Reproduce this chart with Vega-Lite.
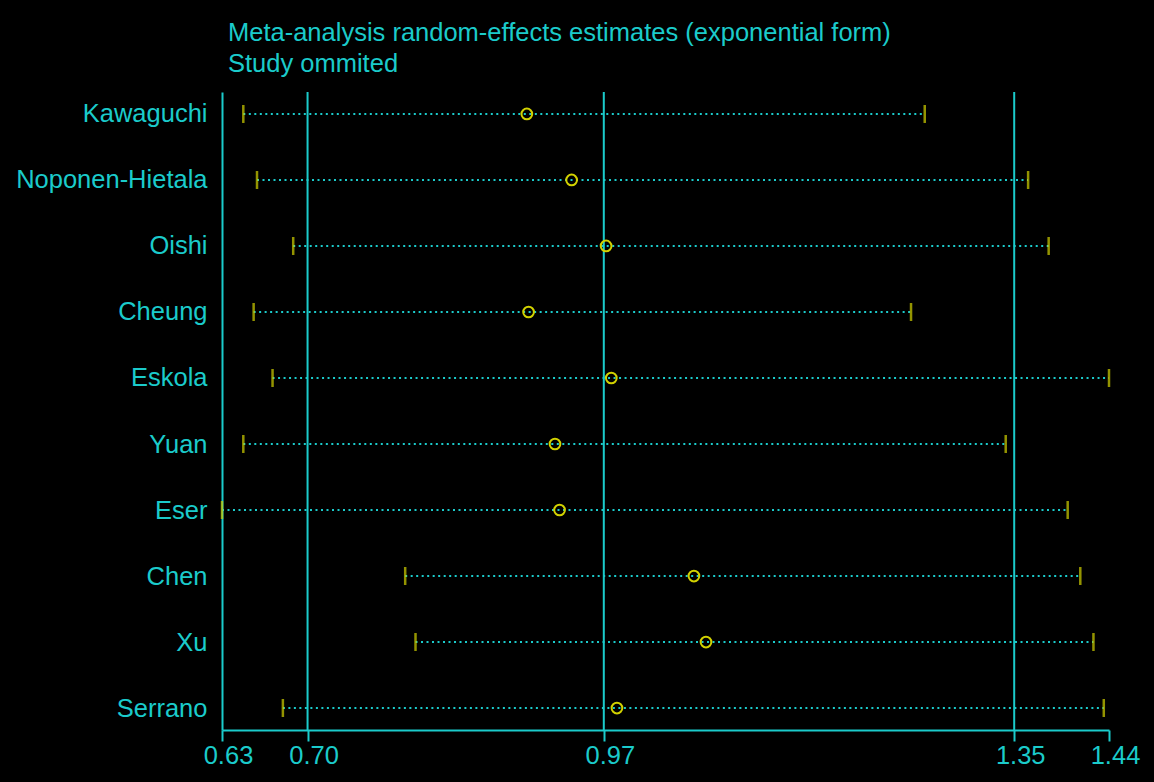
{
  "$schema": "https://vega.github.io/schema/vega-lite/v6.json",
  "autosize": "none",
  "width": 887,
  "height": 638,
  "padding": {"left": 222, "top": 92, "right": 45, "bottom": 52},
  "background": "#000000",
  "title": {
    "text": ["Meta-analysis random-effects estimates (exponential form)", "Study ommited"],
    "anchor": "start",
    "frame": "group",
    "dx": 6,
    "offset": 14,
    "font": "Liberation Sans",
    "fontSize": 25.5,
    "fontWeight": "normal",
    "lineHeight": 31,
    "color": "#1BCBCB"
  },
  "config": {
    "view": {"stroke": null},
    "font": "Liberation Sans"
  },
  "datasets": {
    "studies": [
      {"study": "Kawaguchi", "lower": 0.6409, "estimate": 0.9017, "upper": 1.2677},
      {"study": "Noponen-Hietala", "lower": 0.6535, "estimate": 0.9429, "upper": 1.3628},
      {"study": "Oishi", "lower": 0.6868, "estimate": 0.9746, "upper": 1.3817},
      {"study": "Cheung", "lower": 0.6504, "estimate": 0.9033, "upper": 1.2551},
      {"study": "Eskola", "lower": 0.6678, "estimate": 0.9794, "upper": 1.4372},
      {"study": "Yuan", "lower": 0.6409, "estimate": 0.9276, "upper": 1.3422},
      {"study": "Eser", "lower": 0.6213, "estimate": 0.9318, "upper": 1.3992},
      {"study": "Chen", "lower": 0.7898, "estimate": 1.0554, "upper": 1.4108},
      {"study": "Xu", "lower": 0.7993, "estimate": 1.0665, "upper": 1.4229},
      {"study": "Serrano", "lower": 0.6773, "estimate": 0.9846, "upper": 1.4324}
    ],
    "overall": [
      {"value": 0.70},
      {"value": 0.9725},
      {"value": 1.35}
    ]
  },
  "data": {"name": "studies"},
  "encoding": {
    "y": {
      "field": "study",
      "type": "nominal",
      "sort": null,
      "scale": {"type": "point", "padding": 0.333},
      "axis": {
        "title": null,
        "ticks": false,
        "labelFontSize": 25.5,
        "labelColor": "#1BCBCB",
        "labelPadding": 15,
        "labelLimit": 400,
        "domainColor": "#1BCBCB",
        "domainWidth": 2,
        "grid": false
      }
    }
  },
  "layer": [
    {
      "data": {"name": "overall"},
      "mark": {"type": "rule", "color": "#1BCBCB", "strokeWidth": 2},
      "encoding": {
        "x": {"field": "value", "type": "quantitative"},
        "y": null
      }
    },
    {
      "mark": {"type": "rule", "color": "#1BCBCB", "strokeWidth": 2, "strokeDash": [2, 3.5]},
      "encoding": {
        "x": {
          "field": "lower",
          "type": "quantitative",
          "scale": {"domain": [0.6213, 1.4372], "nice": false, "zero": false},
          "axis": {
            "title": null,
            "values": [0.6213, 0.70, 0.9725, 1.35, 1.4372],
            "labelExpr": "datum.value < 0.65 ? '0.63' : format(datum.value, '.2f')",
            "labelFontSize": 25.5,
            "labelColor": "#1BCBCB",
            "labelFlush": false,
            "labelOverlap": false,
            "labelBound": false,
            "labelOffset": 6,
            "labelPadding": 2,
            "tickSize": 11,
            "tickWidth": 2,
            "tickColor": "#1BCBCB",
            "domainColor": "#1BCBCB",
            "domainWidth": 2,
            "grid": false
          }
        },
        "x2": {"field": "upper"}
      }
    },
    {
      "mark": {"type": "tick", "orient": "vertical", "color": "#D2D200", "size": 18, "thickness": 2.5},
      "encoding": {"x": {"field": "lower", "type": "quantitative"}}
    },
    {
      "mark": {"type": "tick", "orient": "vertical", "color": "#D2D200", "size": 18, "thickness": 2.5},
      "encoding": {"x": {"field": "upper", "type": "quantitative"}}
    },
    {
      "mark": {"type": "point", "shape": "circle", "filled": false, "color": "#D2D200", "strokeWidth": 2, "size": 115, "opacity": 1},
      "encoding": {"x": {"field": "estimate", "type": "quantitative"}}
    }
  ]
}
